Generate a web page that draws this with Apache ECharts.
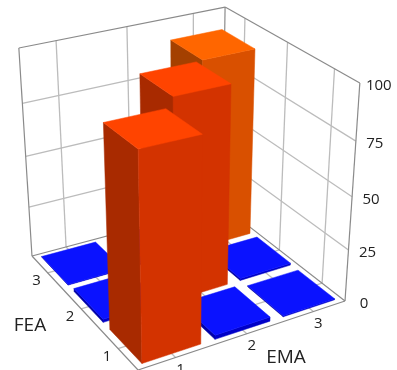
<!DOCTYPE html>
<html>
<head>
<meta charset="utf-8">
<style>html,body{margin:0;padding:0;background:#fff}#main{width:397px;height:370px}</style>
<script src="https://cdn.jsdelivr.net/npm/echarts@6/dist/echarts.min.js"></script>
</head>
<body>
<div id="main"></div>
<script>
var emaLabels = ['1', '2', '3'];
var feaLabels = ['1', '2', '3'];
var heightTicks = [0, 25, 50, 75, 100];
// rows are FEA 1..3, columns are EMA 1..3
var fea1Values = [92, 2, 0.5];
var fea2Values = [1.5, 93.5, 1];
var fea3Values = [0.3, 1, 91];

var barFillU = 0.8;
var barFillV = 0.82;
var barColors = {
    low: ['#0a12ff', '#0000c8', '#0000a8'],
    mid: ['#ff4400', '#d33300', '#a82a00'],
    high: ['#ff6600', '#d95000', '#a44000']
};

// camera fitted to the box corners of the picture
function project(u, v, w) {
    var d = 1 + 0.10808 * u + 0.15944 * v - 0.0929 * w;
    return [
        (138 + 244.29 * u - 100.9 * v - 17 * w) / d,
        (370 - 36.47 * u - 73.18 * v + w * (-249 - 0.27 * u + 3.4 * v - 6.2 * u * v)) / d
    ];
}
function toW(value) {
    return echarts.number.linearMap(value, [0, 100], [0, 1]);
}
function bandUV(params, api, i, j) {
    var rect = params.coordSys;
    var p = api.coord([i, j]);
    return [(p[0] - rect.x) / rect.width, 1 - (p[1] - rect.y) / rect.height];
}
function line(a, b, color, width) {
    return {
        type: 'line',
        shape: {x1: a[0], y1: a[1], x2: b[0], y2: b[1]},
        style: {stroke: color, lineWidth: width}
    };
}
function text(str, p, font) {
    return {
        type: 'text',
        style: {text: str, x: p[0], y: p[1], fill: '#222', font: font, align: 'center', verticalAlign: 'middle'}
    };
}
function renderFrame(params, api) {
    var kids = [];
    var gray = '#bcbcbc', dark = '#8a8a8a';
    emaLabels.forEach(function (c, i) {
        var u = bandUV(params, api, i, 0)[0];
        kids.push(line(project(u, 1, 0), project(u, 1, 1), gray, 1.3));
        kids.push(line(project(u, 0, 0), project(u, 1, 0), gray, 1.3));
    });
    feaLabels.forEach(function (c, j) {
        var v = bandUV(params, api, 0, j)[1];
        kids.push(line(project(1, v, 0), project(1, v, 1), gray, 1.3));
        kids.push(line(project(0, v, 0), project(1, v, 0), gray, 1.3));
    });
    heightTicks.forEach(function (t) {
        var w = toW(t);
        if (t > 0 && t < 100) {
            kids.push(line(project(0, 1, w), project(1, 1, w), gray, 1.3));
            kids.push(line(project(1, 0, w), project(1, 1, w), gray, 1.3));
        }
    });
    kids.push(line(project(0, 1, 1), project(1, 1, 1), dark, 1.2));
    kids.push(line(project(1, 0, 1), project(1, 1, 1), dark, 1.2));
    kids.push(line(project(0, 1, 0), project(0, 1, 1), dark, 1.2));
    kids.push(line(project(1, 0, 0), project(1, 0, 1), dark, 1.2));
    kids.push(line(project(1, 1, 0), project(1, 1, 1), dark, 1.2));
    kids.push(line(project(0, 1, 0), project(1, 1, 0), dark, 1.2));
    kids.push(line(project(1, 0, 0), project(1, 1, 0), dark, 1.2));
    kids.push(line(project(0, 0, 0), project(1, 0, 0), dark, 1.2));
    kids.push(line(project(0, 0, 0), project(0, 1, 0), dark, 1.2));
    return {type: 'group', children: kids};
}
function renderBar(params, api) {
    var i = api.value(0), j = api.value(1), h = api.value(2);
    var c = bandUV(params, api, i, j);
    var rect = params.coordSys;
    var size = api.size([1, 1]);
    var du = size[0] / rect.width * barFillU / 2;
    var dv = size[1] / rect.height * barFillV / 2;
    var u0 = c[0] - du, u1 = c[0] + du, v0 = c[1] - dv, v1 = c[1] + dv;
    var w = toW(h);
    var colors = h > 50 ? (j === 2 ? barColors.high : barColors.mid) : barColors.low;
    function poly(points, color) {
        return {
            type: 'polygon',
            shape: {points: points},
            style: {fill: color, stroke: color, lineWidth: 0.5}
        };
    }
    return {
        type: 'group',
        children: [
            poly([project(u0, v0, 0), project(u0, v1, 0), project(u0, v1, w), project(u0, v0, w)], colors[2]),
            poly([project(u0, v0, 0), project(u1, v0, 0), project(u1, v0, w), project(u0, v0, w)], colors[1]),
            poly([project(u0, v0, w), project(u1, v0, w), project(u1, v1, w), project(u0, v1, w)], colors[0])
        ]
    };
}
function renderLabels(params, api) {
    var kids = [];
    var small = '15px "Open Sans"';
    emaLabels.forEach(function (c, i) {
        var p = project(bandUV(params, api, i, 0)[0], 0, 0);
        kids.push(text(c, [p[0] + 5, p[1] + 12], small));
    });
    feaLabels.forEach(function (c, j) {
        var p = project(0, bandUV(params, api, 0, j)[1], 0);
        kids.push(text(c, [p[0] - 11, p[1] + 8], small));
    });
    heightTicks.forEach(function (t) {
        var p = project(1, 0, toW(t));
        kids.push(text(String(t), [p[0] + 19, p[1] + 3], small));
    });
    kids.push(text('FEA', [30, 326], '19px "Open Sans"'));
    kids.push(text('EMA', [286, 358], '19px "Open Sans"'));
    return {type: 'group', children: kids};
}

// back to front so nearer bars paint over farther ones
var barData = [];
[fea1Values, fea2Values, fea3Values].forEach(function (row, j) {
    row.forEach(function (value, i) {
        barData.push([i, j, value]);
    });
});
barData.sort(function (a, b) {
    return (b[0] + b[1]) - (a[0] + a[1]);
});

var chart = echarts.init(document.getElementById('main'));
var option = {
    animation: false,
    grid: {left: 0, top: 0, width: 300, height: 300, show: false},
    xAxis: {type: 'category', data: emaLabels, show: false},
    yAxis: {type: 'category', data: feaLabels, show: false},
    series: [
        {type: 'custom', renderItem: renderFrame, data: [[0, 0]], clip: false, silent: true},
        {type: 'custom', renderItem: renderBar, data: barData, clip: false, silent: true},
        {type: 'custom', renderItem: renderLabels, data: [[0, 0]], clip: false, silent: true}
    ]
};
chart.setOption(option);
window.addEventListener('resize', function () {
    chart.resize();
});
</script>
</body>
</html>
